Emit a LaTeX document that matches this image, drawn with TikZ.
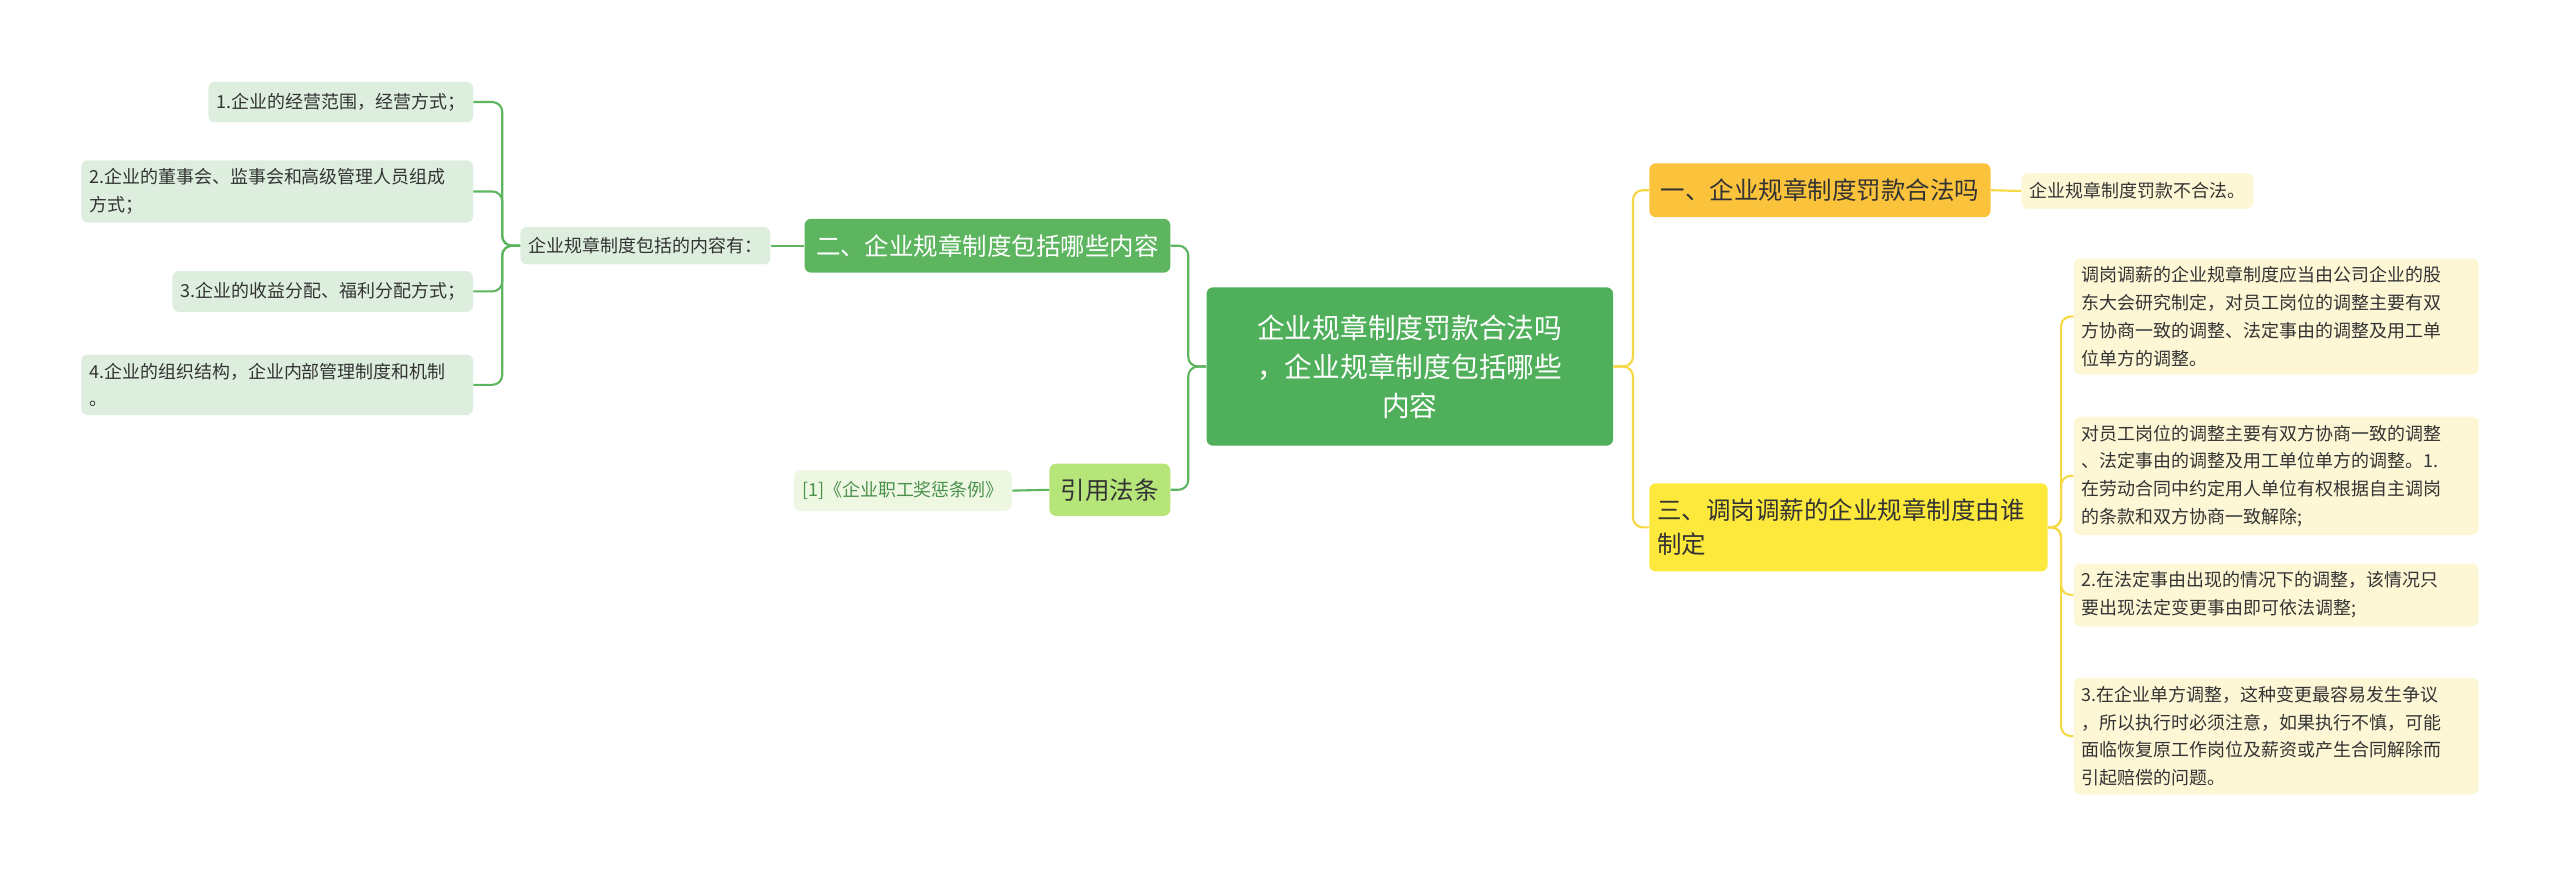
\documentclass[tikz,border=0pt]{standalone}
\usepackage{fontspec}
\setmainfont{Noto Sans CJK SC}
\usetikzlibrary{positioning}
\definecolor{gmain}{HTML}{4FAF5A}
\definecolor{gline}{HTML}{5DB55F}
\definecolor{gleaf}{HTML}{DDEEDF}
\definecolor{lime}{HTML}{B6E579}
\definecolor{limeleaf}{HTML}{EEF7E2}
\definecolor{ora}{HTML}{FBC23C}
\definecolor{yel}{HTML}{FDE93B}
\definecolor{yline}{HTML}{F6D844}
\definecolor{yleaf}{HTML}{FDF7D6}
\definecolor{txt}{HTML}{333333}
\begin{document}
\begin{tikzpicture}[x=1pt,y=1pt,
  box/.style={rounded corners=4pt, inner sep=5pt, align=left, text=txt},
  leaf/.style={box, font=\fontsize{11}{17}\selectfont},
  gl/.style={draw=gline, line width=1.3pt, rounded corners=6pt},
  yl/.style={draw=yline, line width=1.3pt, rounded corners=6pt}]
\useasboundingbox (0,0) rectangle (1568,-536);
% centre
\node[box, fill=gmain, text=white, align=center, minimum width=249, minimum height=97,
  font=\fontsize{17}{24}\selectfont] (c) at (863.5,-224.5)
  {企业规章制度罚款合法吗\\，企业规章制度包括哪些\\内容};
% right side
\node[box, fill=ora, anchor=west, minimum height=33, inner xsep=7pt, font=\fontsize{15}{19}\selectfont] (r1) at (1010,-116.5) {一、企业规章制度罚款合法吗};
\node[leaf, fill=yleaf, anchor=west, minimum height=22] (r1a) at (1238,-117) {企业规章制度罚款不合法。};
\node[box, fill=yel, anchor=west, minimum height=54, text width=234, font=\fontsize{15}{21}\selectfont] (r3) at (1010,-323) {三、调岗调薪的企业规章制度由谁\\制定};
\node[leaf, fill=yleaf, anchor=north west, text width=238] (r3a) at (1270,-158) {调岗调薪的企业规章制度应当由公司企业的股\\东大会研究制定，对员工岗位的调整主要有双\\方协商一致的调整、法定事由的调整及用工单\\位单方的调整。};
\node[leaf, fill=yleaf, anchor=north west, text width=238] (r3b) at (1270,-255) {对员工岗位的调整主要有双方协商一致的调整\\、法定事由的调整及用工单位单方的调整。1.\\在劳动合同中约定用人单位有权根据自主调岗\\的条款和双方协商一致解除;};
\node[leaf, fill=yleaf, anchor=north west, text width=238] (r3c) at (1270,-345) {2.在法定事由出现的情况下的调整，该情况只\\要出现法定变更事由即可依法调整;};
\node[leaf, fill=yleaf, anchor=north west, text width=238] (r3d) at (1270,-415) {3.在企业单方调整，这种变更最容易发生争议\\，所以执行时必须注意，如果执行不慎，可能\\面临恢复原工作岗位及薪资或产生合同解除而\\引起赔偿的问题。};
% left side
\node[box, fill=gline, text=white, anchor=east, minimum height=33, inner xsep=7pt, font=\fontsize{15}{19}\selectfont] (l2) at (717,-150.5) {二、企业规章制度包括哪些内容};
\node[leaf, fill=gleaf, anchor=east, minimum height=23] (l2s) at (472,-150.5) {企业规章制度包括的内容有：};
\node[leaf, fill=gleaf, anchor=east, minimum height=25] (l2a) at (290,-62.5) {1.企业的经营范围，经营方式；};
\node[leaf, fill=gleaf, anchor=north east, text width=230] (l2b) at (290,-98) {2.企业的董事会、监事会和高级管理人员组成\\方式；};
\node[leaf, fill=gleaf, anchor=east, minimum height=25] (l2c) at (290,-178.5) {3.企业的收益分配、福利分配方式；};
\node[leaf, fill=gleaf, anchor=north east, text width=230] (l2d) at (290,-217) {4.企业的组织结构，企业内部管理制度和机制\\。};
\node[box, fill=lime, anchor=east, minimum height=32, inner xsep=7pt, font=\fontsize{15}{19}\selectfont] (l4) at (717,-300) {引用法条};
\node[leaf, fill=limeleaf, text=gline!80!black, anchor=east, minimum height=25] (l4a) at (620,-300.5) {[1]《企业职工奖惩条例》};
% connectors
\draw[yl] (c.east) -- ++(12,0) |- (r1.west);
\draw[yl] (c.east) -- ++(12,0) |- (r3.west);
\draw[yl] (r1.east) -- (r1a.west);
\foreach \n in {r3a,r3b,r3c,r3d}
  \draw[yl] (r3.east) -- ++(8,0) |- (\n.west);
\draw[gl] (c.west) -- ++(-11,0) |- (l2.east);
\draw[gl] (c.west) -- ++(-11,0) |- (l4.east);
\draw[gl] (l2.west) -- (l2s.east);
\draw[gl] (l4.west) -- (l4a.east);
\foreach \n in {l2a,l2b,l2c,l2d}
  \draw[gl] (l2s.west) -- ++(-11,0) |- (\n.east);
\end{tikzpicture}
\end{document}
